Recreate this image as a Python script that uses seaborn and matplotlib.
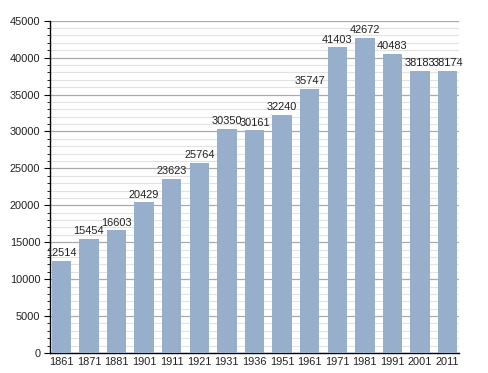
import matplotlib
matplotlib.use("Agg")
import matplotlib.pyplot as plt
import seaborn as sns
import pandas as pd
from matplotlib.ticker import MultipleLocator

years = ["1861", "1871", "1881", "1901", "1911", "1921", "1931", "1936",
         "1951", "1961", "1971", "1981", "1991", "2001", "2011"]
population = [12514, 15454, 16603, 20429, 23623, 25764, 30350, 30161,
              32240, 35747, 41403, 42672, 40483, 38183, 38174]

df = pd.DataFrame({"year": years, "pop": population})

sns.set_style("white")
plt.rcParams["font.family"] = ["Liberation Sans", "DejaVu Sans"]

fig = plt.figure(figsize=(4.88, 3.73), dpi=100)
ax = fig.add_axes([0.1025, 0.0536, 0.838, 0.891])

sns.barplot(data=df, x="year", y="pop", order=years, color="#97AFCB",
            saturation=1, width=0.7, ax=ax, zorder=3, linewidth=0,
            edgecolor="none")

ax.set_xlim(-0.41, 14.41)
ax.set_ylim(0, 45000)
ax.yaxis.set_major_locator(MultipleLocator(5000))
ax.yaxis.set_minor_locator(MultipleLocator(1000))
ax.grid(axis="y", which="major", color="#aaaaaa", linewidth=0.9, zorder=0)
ax.grid(axis="y", which="minor", color="#e2e2e2", linewidth=0.8, zorder=0)
ax.set_axisbelow(True)

for s in ["top", "right"]:
    ax.spines[s].set_visible(False)
for s in ["left", "bottom"]:
    ax.spines[s].set_color("black")
    ax.spines[s].set_linewidth(1.0)

ax.tick_params(axis="y", which="major", length=4, width=0.8, color="black",
               labelsize=7.9, pad=3, left=True, labelcolor="#222222")
ax.tick_params(axis="y", which="minor", length=2, width=0.6, color="black", left=True)
ax.tick_params(axis="x", which="major", length=0, labelsize=7.9, pad=3,
               labelcolor="#222222")

ax.set_xlabel("")
ax.set_ylabel("")

for i, v in enumerate(population):
    ax.text(i, v + 350, str(v), ha="center", va="bottom", fontsize=7.9, color="#222222")

fig.savefig("out.png", dpi=100)
